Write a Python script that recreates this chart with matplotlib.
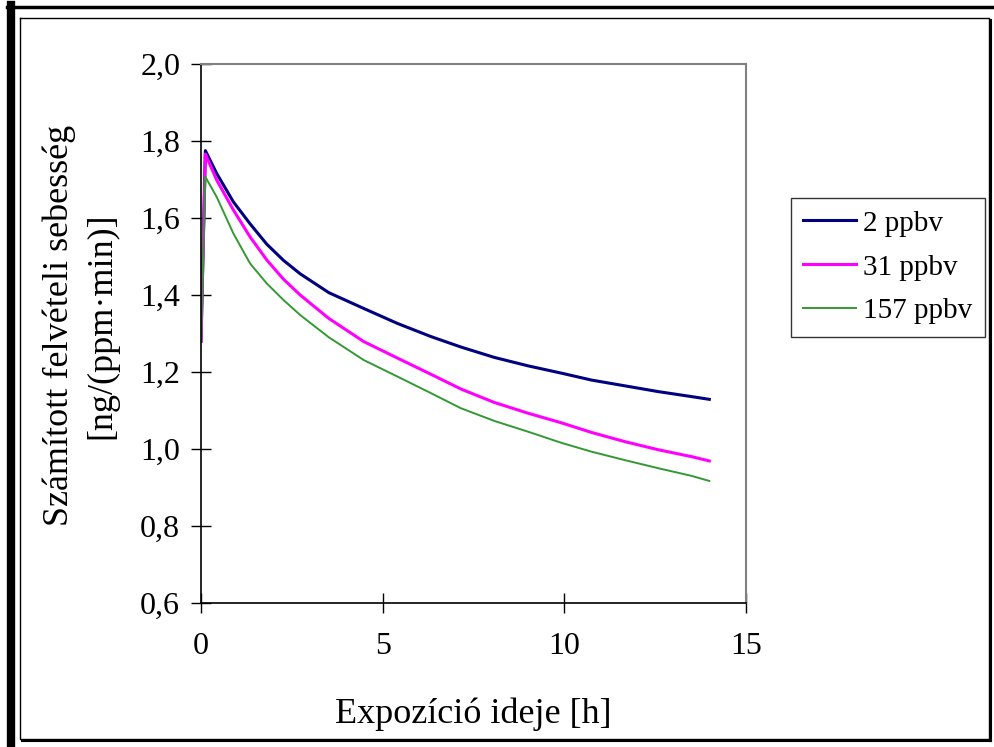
import matplotlib.pyplot as plt
from matplotlib.lines import Line2D
from matplotlib.ticker import FuncFormatter, MultipleLocator

# exposure time [h] and computed uptake rates for the three concentrations
hours = [0.0, 0.12, 0.43, 0.89, 1.35, 1.81, 2.27, 2.73, 3.52, 4.48, 5.41,
         6.33, 7.15, 8.07, 9.0, 9.92, 10.75, 11.67, 12.59, 13.51, 13.99]
rate_2 = [1.28, 1.775, 1.716, 1.642, 1.585, 1.532, 1.490, 1.455, 1.406, 1.365, 1.326,
          1.292, 1.265, 1.238, 1.216, 1.197, 1.179, 1.164, 1.149, 1.136, 1.129]
rate_31 = [1.28, 1.766, 1.699, 1.621, 1.551, 1.491, 1.441, 1.400, 1.339, 1.279, 1.236,
           1.194, 1.156, 1.121, 1.093, 1.068, 1.043, 1.019, 0.998, 0.980, 0.969]
rate_157 = [1.28, 1.707, 1.655, 1.560, 1.482, 1.430, 1.387, 1.348, 1.290, 1.231, 1.188,
            1.145, 1.106, 1.073, 1.045, 1.016, 0.993, 0.971, 0.950, 0.930, 0.917]
labels = ['2 ppbv', '31 ppbv', '157 ppbv']

plt.rcParams['font.family'] = ['Liberation Serif', 'DejaVu Serif']
W, H = 995, 747
fig = plt.figure(figsize=(W / 100, H / 100), dpi=100)
ax = fig.add_axes([201 / W, 1 - 603 / H, (746 - 201) / W, (603 - 64) / H])

ax.plot(hours, rate_2, color='#000080', lw=2.2, label=labels[0])
ax.plot(hours, rate_31, color='#ff00ff', lw=2.2, label=labels[1])
ax.plot(hours, rate_157, color='#339933', lw=1.4, label=labels[2])

ax.set_xlim(0, 15)
ax.set_ylim(0.6, 2.0)
ax.xaxis.set_major_locator(MultipleLocator(5))
ax.yaxis.set_major_locator(MultipleLocator(0.2))
ax.yaxis.set_major_formatter(FuncFormatter(lambda v, p: f'{v:.1f}'.replace('.', ',')))
ax.tick_params(direction='inout', length=14, width=1, labelsize=23, pad=8)
ax.tick_params(axis='x', pad=14)

for side in ('top', 'right'):
    ax.spines[side].set_color('#808080')
    ax.spines[side].set_linewidth(1.5)
for side in ('left', 'bottom'):
    ax.spines[side].set_linewidth(1.2)

ax.set_xlabel('Expozíció ideje [h]', fontsize=26, labelpad=26)
ax.set_ylabel('Számított felvételi sebesség\n[ng/(ppm·min)]', fontsize=26,
              linespacing=1.35)
ax.yaxis.set_label_coords(-0.152, 0.515)

leg = ax.legend(loc='upper left', bbox_to_anchor=(791 / W, 1 - 198 / H),
                bbox_transform=fig.transFigure, borderaxespad=0, fontsize=21,
                frameon=True, fancybox=False, handlelength=1.8, handletextpad=0.25,
                labelspacing=0.6, borderpad=0.42)
leg.get_frame().set_edgecolor('black')
leg.get_frame().set_linewidth(1.0)


def px_line(x, y, **kw):
    fig.add_artist(Line2D([v / W for v in x], [1 - v / H for v in y],
                          transform=fig.transFigure, **kw))


# chart frame: thick page rule left/top, thin box with shadow right/bottom
px_line([11, 11], [5, 747], color='black', lw=6)
px_line([7, 995], [6.5, 6.5], color='black', lw=2.5)
px_line([20, 989, 989, 20, 20], [18, 18, 739, 739, 18], color='black', lw=1)
px_line([991, 991], [20, 741], color='black', lw=1.5)
px_line([22, 991], [741, 741], color='black', lw=1.5)

fig.savefig('out.png', dpi=100)
